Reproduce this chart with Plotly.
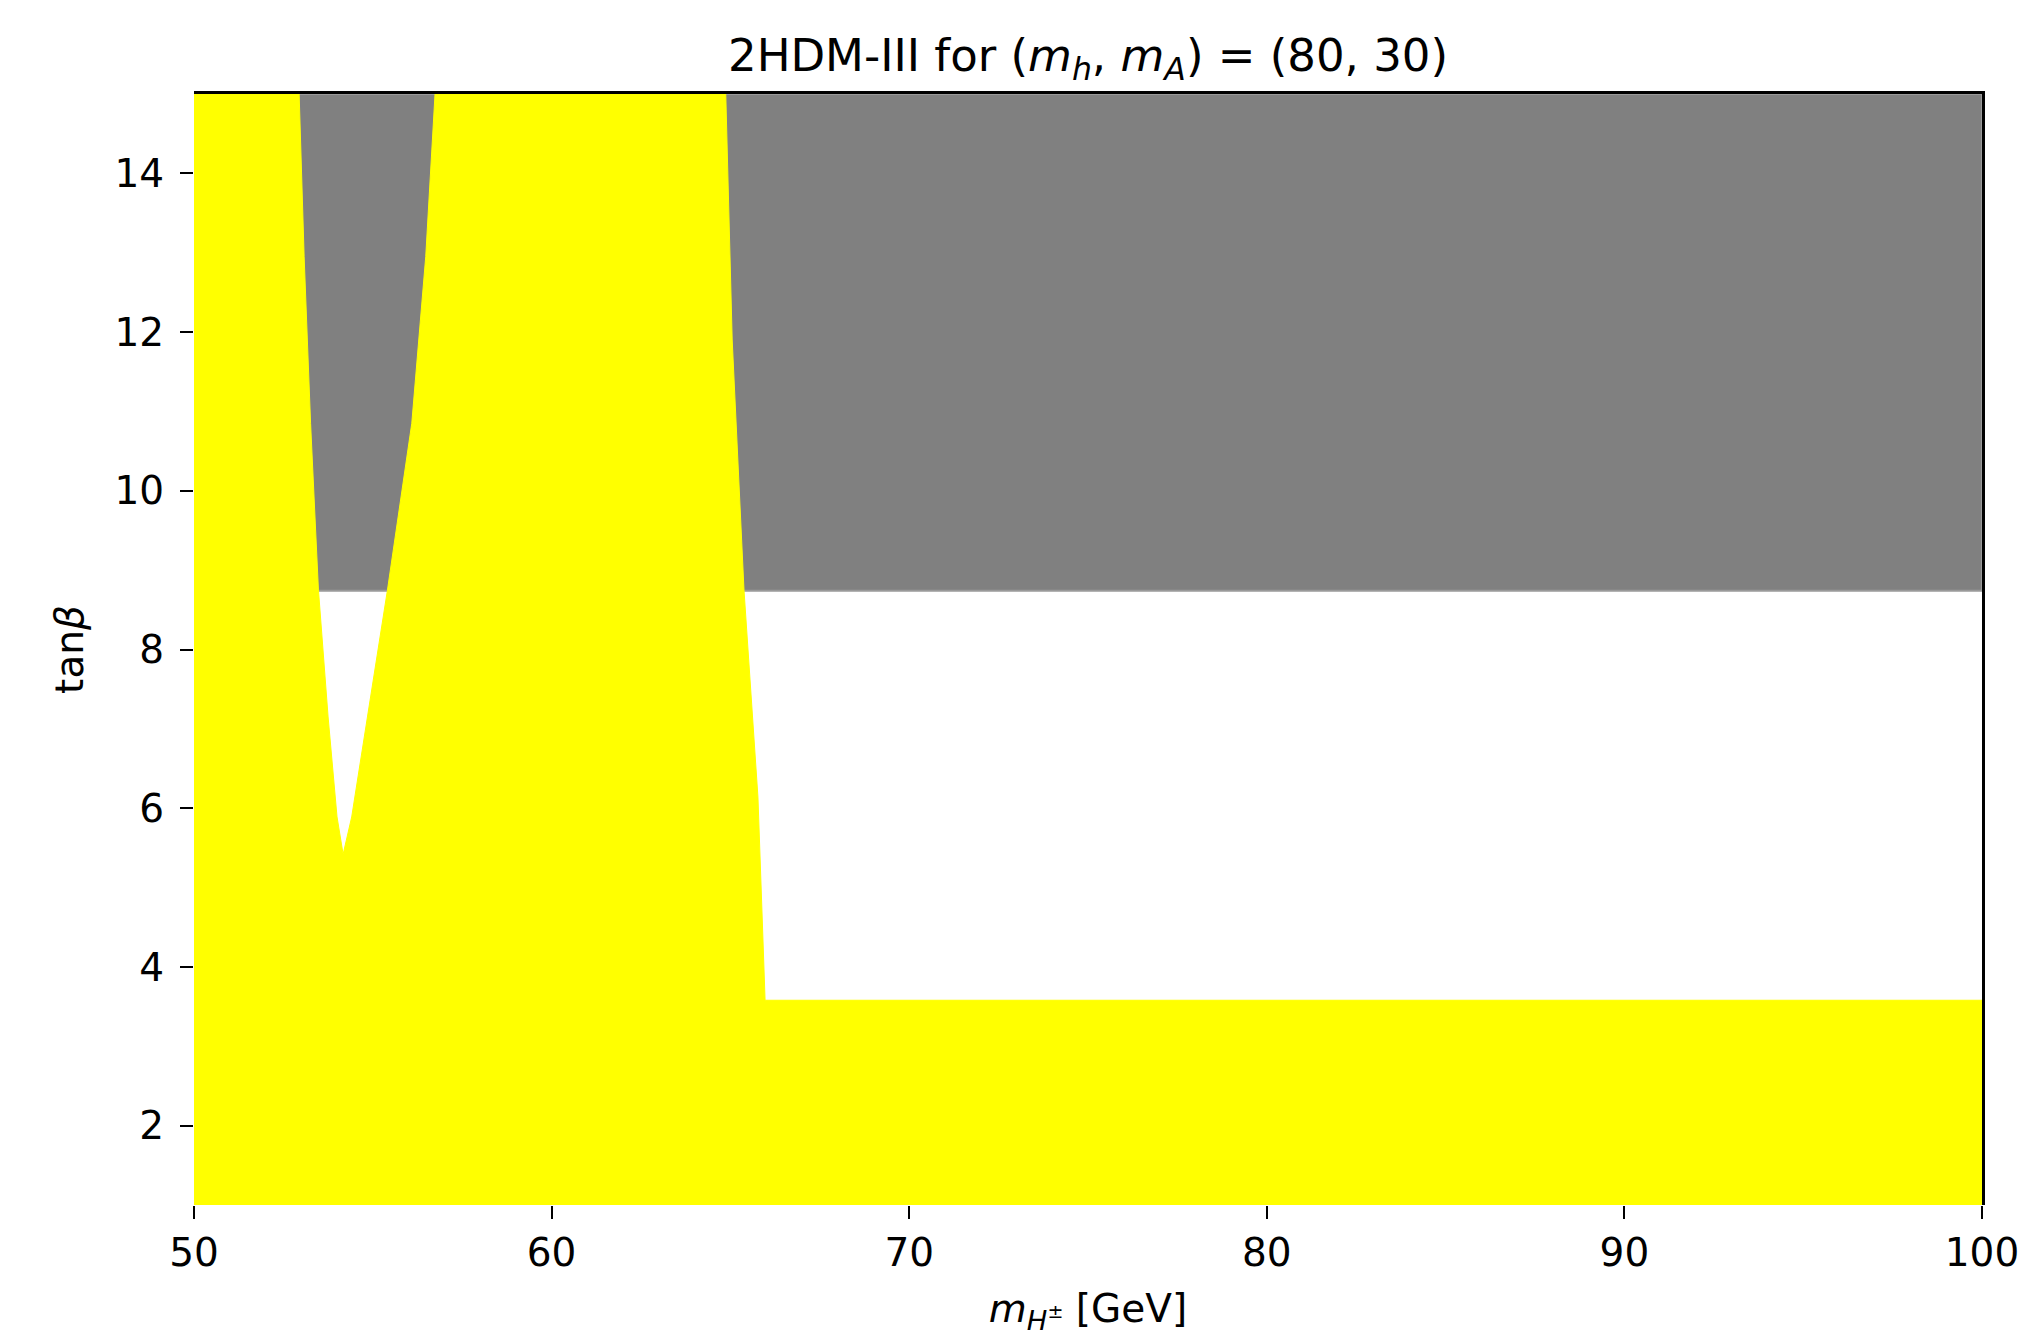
import plotly.graph_objects as go

# Axis ranges and ticks
x_range = [50, 100]
y_range = [1, 15]
x_ticks = [50, 60, 70, 80, 90, 100]
y_ticks = [2, 4, 6, 8, 10, 12, 14]

# Grey (excluded at large tanβ) region bounds
grey_x = [50, 100]
grey_y = [8.74, 15]

# Yellow (allowed) region boundary pieces
notch_left_x = [52.94, 53.08, 53.26, 53.48, 53.75, 54.00, 54.17]
notch_left_y = [15.0, 12.95, 10.85, 8.75, 7.15, 5.89, 5.42]
notch_right_x = [54.17, 54.41, 54.85, 55.41, 56.09, 56.48, 56.74]
notch_right_y = [5.42, 5.89, 7.15, 8.75, 10.85, 12.95, 15.0]
band_edge_x = [64.87, 65.05, 65.38, 65.77, 65.97]
band_edge_y = [15.0, 11.9, 8.75, 6.14, 3.58]
band_top = 3.58

# Build closed yellow polygon
yx = [x_range[0], x_range[1], x_range[1]] + band_edge_x[::-1] + notch_right_x[::-1] + notch_left_x[::-1] + [x_range[0], x_range[0]]
yy = [y_range[0], y_range[0], band_top] + band_edge_y[::-1] + notch_right_y[::-1] + notch_left_y[::-1] + [y_range[1], y_range[0]]

fig = go.Figure()
fig.add_trace(go.Scatter(x=yx, y=yy, mode="lines", fill="toself",
                         fillcolor="#ffff00", line=dict(color="#ffff00", width=1),
                         hoverinfo="skip", showlegend=False))
# empty trace to anchor the top/right frame axes
fig.add_trace(go.Scatter(x=[], y=[], xaxis="x2", yaxis="y2", showlegend=False, hoverinfo="skip"))

fig.add_shape(type="rect", xref="x", yref="y",
              x0=grey_x[0], x1=grey_x[1], y0=grey_y[0], y1=grey_y[1],
              fillcolor="#808080", line=dict(color="#9a9a9a", width=2), layer="below")

font_family = "DejaVu Sans"
tick_common = dict(showgrid=False, zeroline=False, showline=False,
                   ticks="outside", ticklen=13, tickwidth=2, tickcolor="black",
                   tickfont=dict(family=font_family, size=39, color="black"))
frame_common = dict(showgrid=False, zeroline=False, showline=True, linecolor="black",
                    linewidth=3, layer="below traces", ticks="", showticklabels=False)

fig.update_layout(
    width=2044, height=1339,
    margin=dict(l=186, r=70, t=86, b=142),
    paper_bgcolor="white", plot_bgcolor="white",
    xaxis=dict(range=x_range, tickvals=x_ticks, ticklabelstandoff=0, **tick_common,
               title=dict(text="<i>m</i><sub><i>H</i><sup>±</sup></sub> [GeV]",
                          font=dict(family=font_family, size=39, color="black"), standoff=20)),
    yaxis=dict(range=y_range, tickvals=y_ticks, ticklabelstandoff=8, **tick_common,
               title=dict(text="tan<i>β</i>",
                          font=dict(family=font_family, size=39, color="black"), standoff=18)),
    xaxis2=dict(range=x_range, overlaying="x", side="top", anchor="y2", **frame_common),
    yaxis2=dict(range=y_range, overlaying="y", side="right", anchor="x2", **frame_common),
    title=dict(text="2HDM-III for (<i>m</i><sub><i>h</i></sub>, <i>m</i><sub><i>A</i></sub>) = (80, 30)",
               font=dict(family=font_family, size=45, color="black"),
               x=0.5, xref="paper", xanchor="center",
               y=1 - 47 / 1339, yref="container", yanchor="middle"),
)

fig.write_html("out.html")
